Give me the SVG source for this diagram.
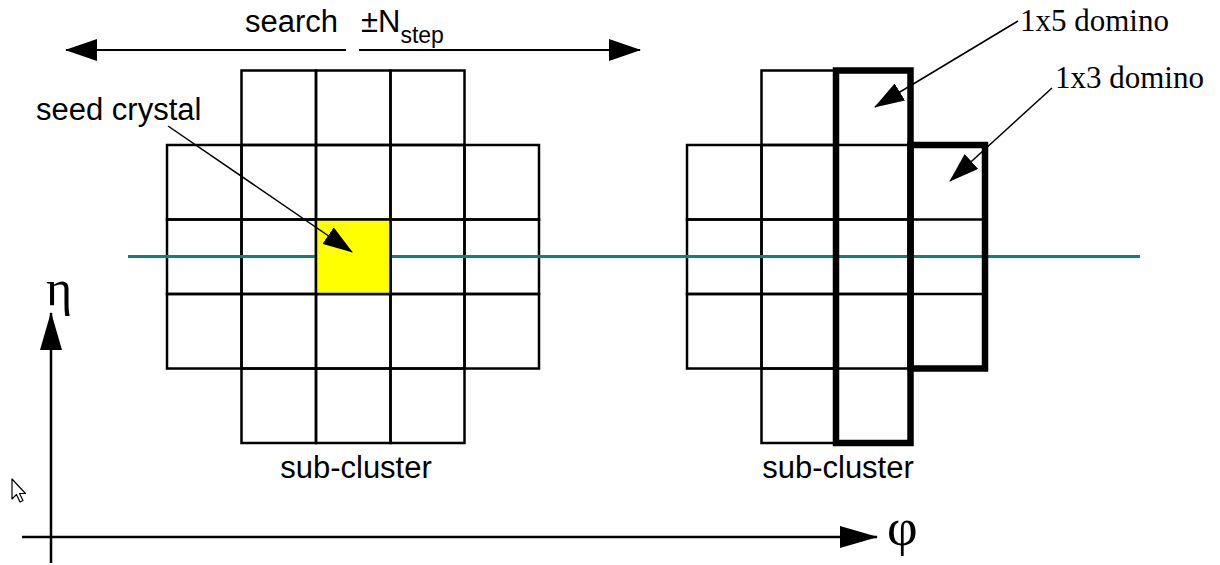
<svg xmlns="http://www.w3.org/2000/svg" width="1220" height="565" viewBox="0 0 1220 565">
<style>
.cell{fill:none;stroke:#000;stroke-width:2.5}
.thick{fill:none;stroke:#000;stroke-width:6.5}
.sans{font-family:"Liberation Sans",Arial,sans-serif;fill:#000}
.serif{font-family:"Liberation Serif","Times New Roman",serif;fill:#000}
.ln{stroke:#000;fill:none}
</style>
<defs>
<marker id="ah" markerUnits="userSpaceOnUse" markerWidth="32" markerHeight="22" viewBox="0 0 32 22" refX="31" refY="11" orient="auto"><path d="M0,0 L32,11 L0,22 z" fill="#000"/></marker>
<marker id="ahs" markerUnits="userSpaceOnUse" markerWidth="30" markerHeight="20" viewBox="0 0 30 20" refX="29" refY="10" orient="auto"><path d="M0,0 L30,10 L0,20 z" fill="#000"/></marker>
<marker id="axh" markerUnits="userSpaceOnUse" markerWidth="38" markerHeight="22" viewBox="0 0 38 22" refX="37" refY="11" orient="auto"><path d="M0,0 L38,11 L0,22 z" fill="#000"/></marker>
</defs>

<g id="left-cluster">
<rect class="cell" x="241.5" y="70.5" width="74.5" height="74.5"/>
<rect class="cell" x="316" y="70.5" width="74.5" height="74.5"/>
<rect class="cell" x="390.5" y="70.5" width="74" height="74.5"/>
<rect class="cell" x="167" y="145" width="74.5" height="74.5"/>
<rect class="cell" x="241.5" y="145" width="74.5" height="74.5"/>
<rect class="cell" x="316" y="145" width="74.5" height="74.5"/>
<rect class="cell" x="390.5" y="145" width="74" height="74.5"/>
<rect class="cell" x="464.5" y="145" width="74.5" height="74.5"/>
<rect class="cell" x="167" y="219.5" width="74.5" height="74.5"/>
<rect class="cell" x="241.5" y="219.5" width="74.5" height="74.5"/>
<rect class="cell" x="390.5" y="219.5" width="74" height="74.5"/>
<rect class="cell" x="464.5" y="219.5" width="74.5" height="74.5"/>
<rect class="cell" x="167" y="294" width="74.5" height="74.5"/>
<rect class="cell" x="241.5" y="294" width="74.5" height="74.5"/>
<rect class="cell" x="316" y="294" width="74.5" height="74.5"/>
<rect class="cell" x="390.5" y="294" width="74" height="74.5"/>
<rect class="cell" x="464.5" y="294" width="74.5" height="74.5"/>
<rect class="cell" x="241.5" y="368.5" width="74.5" height="74.5"/>
<rect class="cell" x="316" y="368.5" width="74.5" height="74.5"/>
<rect class="cell" x="390.5" y="368.5" width="74" height="74.5"/>
<text class="sans" x="356" y="478" font-size="31" text-anchor="middle">sub-cluster</text>
</g>

<g id="right-cluster">
<rect class="cell" x="761.5" y="70.5" width="74.5" height="74.5"/>
<rect class="cell" x="687" y="145" width="74.5" height="74.5"/>
<rect class="cell" x="761.5" y="145" width="74.5" height="74.5"/>
<rect class="cell" x="836" y="145" width="74.5" height="74.5"/>
<rect class="cell" x="687" y="219.5" width="74.5" height="74.5"/>
<rect class="cell" x="761.5" y="219.5" width="74.5" height="74.5"/>
<rect class="cell" x="836" y="219.5" width="74.5" height="74.5"/>
<rect class="cell" x="910.5" y="219.5" width="74.5" height="74.5"/>
<rect class="cell" x="687" y="294" width="74.5" height="74.5"/>
<rect class="cell" x="761.5" y="294" width="74.5" height="74.5"/>
<rect class="cell" x="836" y="294" width="74.5" height="74.5"/>
<rect class="cell" x="761.5" y="368.5" width="74.5" height="74.5"/>
<text class="sans" x="838" y="478" font-size="31" text-anchor="middle">sub-cluster</text>
</g>

<g id="eta-line">
<line x1="128" y1="256.5" x2="1140" y2="256.5" stroke="#0f7f7f" stroke-width="3"/>
</g>

<g id="seed-crystal">
<rect x="316" y="219.5" width="74.5" height="74.5" fill="#ffff00" stroke="#000" stroke-width="2.5"/>
</g>

<g id="domino-1x5">
<rect class="thick" x="836" y="70.5" width="74.5" height="372.5"/>
</g>
<g id="domino-1x3">
<rect class="thick" x="910.5" y="145" width="74.5" height="223.5"/>
</g>

<g id="labels">
<text class="sans" x="245" y="32" font-size="31">search</text>
<text class="sans" x="361" y="32" font-size="31">±N<tspan font-size="23" dy="11">step</tspan></text>
<text class="sans" x="36" y="120" font-size="31">seed crystal</text>
<text class="serif" x="1020" y="31" font-size="31">1x5 domino</text>
<text class="serif" x="1055" y="88" font-size="31">1x3 domino</text>
<text class="serif" x="46" y="305" font-size="50">η</text>
<text class="serif" x="887" y="545" font-size="53">φ</text>
</g>

<g id="connectors">
<line class="ln" stroke-width="2" x1="346" y1="50" x2="66" y2="50" marker-end="url(#ah)"/>
<line class="ln" stroke-width="2" x1="359" y1="50" x2="640" y2="50" marker-end="url(#ah)"/>
<line class="ln" stroke-width="1.5" x1="168" y1="126" x2="352" y2="252" marker-end="url(#ahs)"/>
<line class="ln" stroke-width="1.5" x1="1018" y1="21" x2="875" y2="107" marker-end="url(#ahs)"/>
<line class="ln" stroke-width="1.5" x1="1052" y1="88" x2="950" y2="181" marker-end="url(#ahs)"/>
<line class="ln" stroke-width="2.5" x1="51" y1="563" x2="51" y2="313" marker-end="url(#axh)"/>
<line class="ln" stroke-width="2.5" x1="22" y1="537" x2="877" y2="537" marker-end="url(#axh)"/>
</g>

<g id="cursor">
<path d="M12,479 L12,499 L16.5,494.5 L20,502 L23,500.5 L19.5,493.5 L25.5,493.5 Z" fill="#fff" stroke="#000" stroke-width="1.2" stroke-linejoin="round"/>
</g>
</svg>
